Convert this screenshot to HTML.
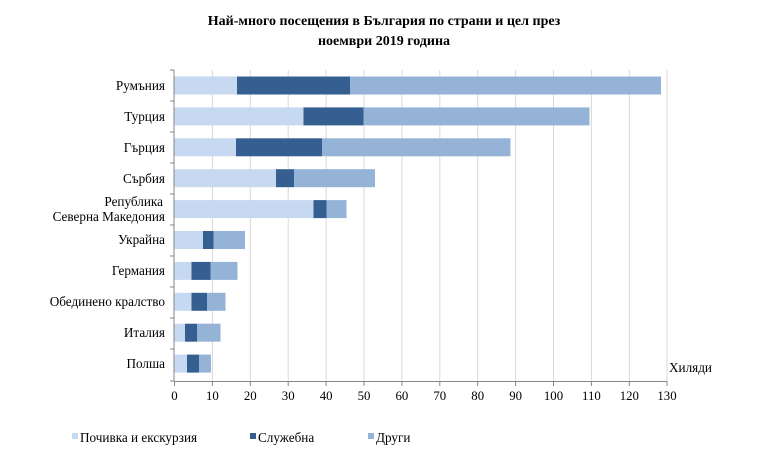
<!DOCTYPE html>
<html><head><meta charset="utf-8"><style>
html,body{margin:0;padding:0;background:#fff;}
svg{display:block;font-family:"Liberation Serif","DejaVu Serif",serif;}
</style></head><body>
<svg width="768" height="472" viewBox="0 0 768 472" xmlns="http://www.w3.org/2000/svg">
<text x="384" y="25" text-anchor="middle" font-size="14" font-weight="bold" fill="#000">Най-много посещения в България по страни и цел през</text>
<text x="384" y="45" text-anchor="middle" font-size="14" font-weight="bold" fill="#000">ноември 2019 година</text>
<g stroke="#d9d9d9" stroke-width="1">
<line x1="212.4" y1="70" x2="212.4" y2="381"/><line x1="250.3" y1="70" x2="250.3" y2="381"/><line x1="288.2" y1="70" x2="288.2" y2="381"/><line x1="326.1" y1="70" x2="326.1" y2="381"/><line x1="364" y1="70" x2="364" y2="381"/><line x1="401.9" y1="70" x2="401.9" y2="381"/><line x1="439.8" y1="70" x2="439.8" y2="381"/><line x1="477.7" y1="70" x2="477.7" y2="381"/><line x1="515.6" y1="70" x2="515.6" y2="381"/><line x1="553.5" y1="70" x2="553.5" y2="381"/><line x1="591.4" y1="70" x2="591.4" y2="381"/><line x1="629.3" y1="70" x2="629.3" y2="381"/><line x1="667" y1="70" x2="667" y2="381"/>
</g>
<g id="bars">
<rect x="174.5" y="76.5" width="62.5" height="18" fill="#c6d9f1"/><rect x="237" y="76.5" width="113" height="18" fill="#365f91"/><rect x="350" y="76.5" width="311" height="18" fill="#95b3d7"/>
<rect x="174.5" y="107.4" width="129" height="18" fill="#c6d9f1"/><rect x="303.5" y="107.4" width="60" height="18" fill="#365f91"/><rect x="363.5" y="107.4" width="226" height="18" fill="#95b3d7"/>
<rect x="174.5" y="138.3" width="61.5" height="18" fill="#c6d9f1"/><rect x="236" y="138.3" width="86" height="18" fill="#365f91"/><rect x="322" y="138.3" width="188.5" height="18" fill="#95b3d7"/>
<rect x="174.5" y="169.2" width="101.5" height="18" fill="#c6d9f1"/><rect x="276" y="169.2" width="18" height="18" fill="#365f91"/><rect x="294" y="169.2" width="81" height="18" fill="#95b3d7"/>
<rect x="174.5" y="200.1" width="139" height="18" fill="#c6d9f1"/><rect x="313.5" y="200.1" width="13" height="18" fill="#365f91"/><rect x="326.5" y="200.1" width="20" height="18" fill="#95b3d7"/>
<rect x="174.5" y="231" width="28.5" height="18" fill="#c6d9f1"/><rect x="203" y="231" width="10.5" height="18" fill="#365f91"/><rect x="213.5" y="231" width="31.5" height="18" fill="#95b3d7"/>
<rect x="174.5" y="261.9" width="17" height="18" fill="#c6d9f1"/><rect x="191.5" y="261.9" width="19" height="18" fill="#365f91"/><rect x="210.5" y="261.9" width="27" height="18" fill="#95b3d7"/>
<rect x="174.5" y="292.8" width="17" height="18" fill="#c6d9f1"/><rect x="191.5" y="292.8" width="15.5" height="18" fill="#365f91"/><rect x="207" y="292.8" width="18.5" height="18" fill="#95b3d7"/>
<rect x="174.5" y="323.7" width="10.5" height="18" fill="#c6d9f1"/><rect x="185" y="323.7" width="12" height="18" fill="#365f91"/><rect x="197" y="323.7" width="23.5" height="18" fill="#95b3d7"/>
<rect x="174.5" y="354.6" width="12.5" height="18" fill="#c6d9f1"/><rect x="187" y="354.6" width="12" height="18" fill="#365f91"/><rect x="199" y="354.6" width="12" height="18" fill="#95b3d7"/>
</g>
<g stroke="#868686" stroke-width="1">
<line x1="174" y1="70" x2="174" y2="381.5"/>
<line x1="174" y1="381.5" x2="667" y2="381.5"/>
<line x1="170" y1="70" x2="174" y2="70"/><line x1="170" y1="101" x2="174" y2="101"/><line x1="170" y1="132" x2="174" y2="132"/><line x1="170" y1="163" x2="174" y2="163"/><line x1="170" y1="194" x2="174" y2="194"/><line x1="170" y1="225" x2="174" y2="225"/><line x1="170" y1="256" x2="174" y2="256"/><line x1="170" y1="287" x2="174" y2="287"/><line x1="170" y1="318" x2="174" y2="318"/><line x1="170" y1="349" x2="174" y2="349"/><line x1="170" y1="381" x2="174" y2="381"/>
<line x1="174.5" y1="381" x2="174.5" y2="386"/><line x1="212.4" y1="381" x2="212.4" y2="386"/><line x1="250.3" y1="381" x2="250.3" y2="386"/><line x1="288.2" y1="381" x2="288.2" y2="386"/><line x1="326.1" y1="381" x2="326.1" y2="386"/><line x1="364" y1="381" x2="364" y2="386"/><line x1="401.9" y1="381" x2="401.9" y2="386"/><line x1="439.8" y1="381" x2="439.8" y2="386"/><line x1="477.7" y1="381" x2="477.7" y2="386"/><line x1="515.6" y1="381" x2="515.6" y2="386"/><line x1="553.5" y1="381" x2="553.5" y2="386"/><line x1="591.4" y1="381" x2="591.4" y2="386"/><line x1="629.3" y1="381" x2="629.3" y2="386"/><line x1="667" y1="381" x2="667" y2="386"/>
</g>
<g font-size="13.2" fill="#000" text-anchor="end">
<text x="165" y="90">Румъния</text>
<text x="165" y="121">Турция</text>
<text x="165" y="152">Гърция</text>
<text x="165" y="183">Сърбия</text>
<text x="163" y="206">Република</text>
<text x="165" y="221">Северна Македония</text>
<text x="165" y="244">Украйна</text>
<text x="165" y="275">Германия</text>
<text x="165" y="306">Обединено кралство</text>
<text x="165" y="337">Италия</text>
<text x="165" y="368">Полша</text>
</g>
<g font-size="12.8" fill="#000" text-anchor="middle">
<text x="174.5" y="400">0</text><text x="212.4" y="400">10</text><text x="250.3" y="400">20</text><text x="288.2" y="400">30</text><text x="326.1" y="400">40</text><text x="364" y="400">50</text><text x="401.9" y="400">60</text><text x="439.8" y="400">70</text><text x="477.7" y="400">80</text><text x="515.6" y="400">90</text><text x="553.5" y="400">100</text><text x="591.4" y="400">110</text><text x="629.3" y="400">120</text><text x="667" y="400">130</text>
</g>
<text x="669" y="372" font-size="13.2" fill="#000">Хиляди</text>
<g font-size="13.2" fill="#000">
<rect x="72" y="433" width="6" height="6" fill="#c6d9f1"/><text x="80" y="442">Почивка и екскурзия</text>
<rect x="250" y="433" width="6" height="6" fill="#365f91"/><text x="258" y="442">Служебна</text>
<rect x="368" y="433" width="6" height="6" fill="#95b3d7"/><text x="376" y="442">Други</text>
</g>
</svg>
</body></html>
